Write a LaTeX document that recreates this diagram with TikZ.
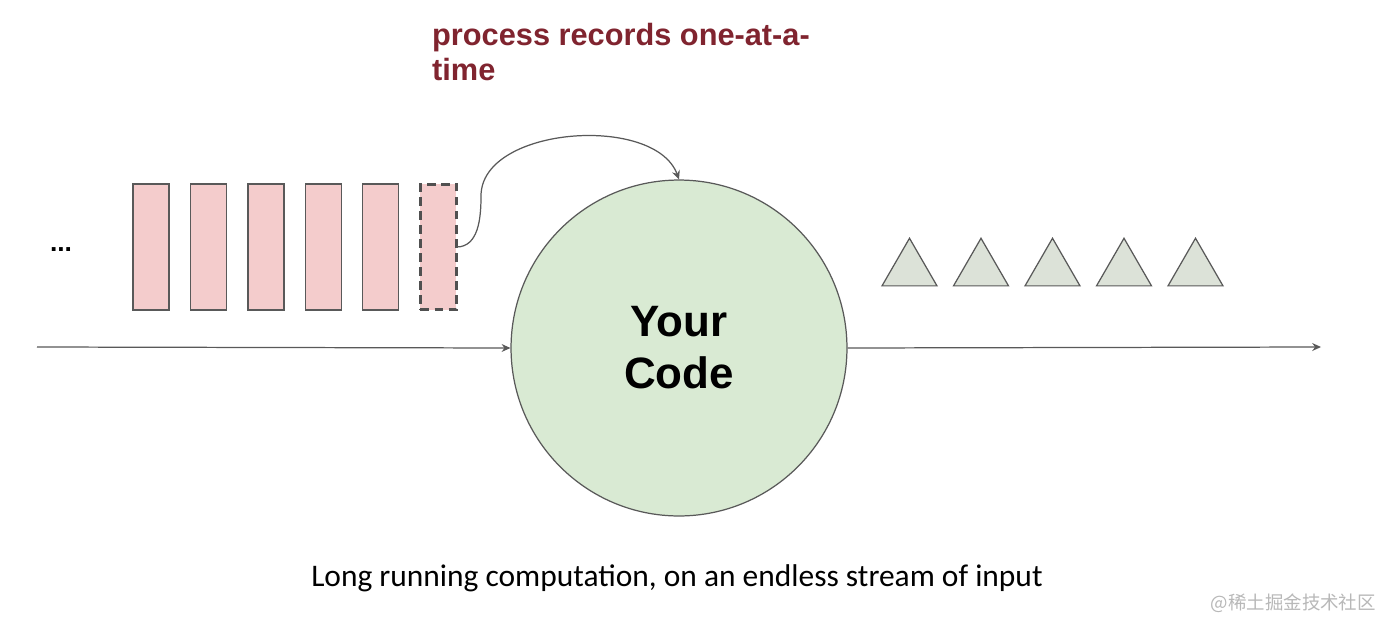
\documentclass[tikz,border=0pt]{standalone}
\usepackage{fontspec}
\setmainfont{Liberation Sans}
\newfontfamily\notefont{Carlito}
\newfontfamily\cjkfont{Noto Sans CJK SC}
\usetikzlibrary{arrows.meta, positioning, shapes.geometric}
\definecolor{recpink}{HTML}{f4cccc}
\definecolor{codegreen}{HTML}{d9ead3}
\definecolor{outgreen}{HTML}{dce2d8}
\definecolor{linegray}{HTML}{595959}
\definecolor{labelred}{HTML}{80242f}

\begin{document}
\begin{tikzpicture}[x=0.02cm, y=-0.02cm,
      record/.style={rectangle, minimum width=0.72cm, minimum height=2.52cm,
                     inner sep=0pt, outer sep=0pt, fill=recpink, draw=linegray,
                     line width=0.6pt},
      current/.style={record, draw=linegray!90!black, line width=1.7pt,
                      dash pattern=on 5pt off 3pt},
      result/.style={regular polygon, regular polygon sides=3, minimum size=1.27cm,
                     inner sep=0pt, fill=outgreen, draw=linegray, line width=0.7pt},
      arr/.style={-{Stealth[length=5pt, width=4.5pt]}, line width=0.7pt, color=linegray},
    ]
      \useasboundingbox[fill=white] (0,0) rectangle (1386,619);

      % input records
      \node[font=\bfseries\fontsize{15pt}{18pt}\selectfont] (dots) at (61,250) {...};
      \node[record] (rec1) at (151,247) {};
      \node[record, right=0.43cm of rec1] (rec2) {};
      \node[record, right=0.43cm of rec2] (rec3) {};
      \node[record, right=0.43cm of rec3] (rec4) {};
      \node[record, right=0.43cm of rec4] (rec5) {};
      \node[current, right=0.43cm of rec5] (rec6) {};

      % the processing step
      \node[circle, minimum size=6.72cm, inner sep=0pt, fill=codegreen,
            draw=linegray, line width=0.7pt, align=center,
            font=\bfseries\fontsize{25pt}{29.5pt}\selectfont] (code) at (679,348)
            {Your\\Code};

      % output results
      \node[result] (out1) at (909.5,270) {};
      \node[result] (out2) at (981,270) {};
      \node[result] (out3) at (1052.5,270) {};
      \node[result] (out4) at (1124,270) {};
      \node[result] (out5) at (1195.5,270) {};

      \coordinate (start) at (37,347);
      \coordinate (finish) at (1321,347);
      \coordinate (lift) at (481,196);

      \draw[arr] (start) -- (code.west);
      \draw[arr] (code.east) -- (finish);
      \draw[arr] (rec6.east) to[out=0, in=-90] (lift)
                 to[out=90, in=110, looseness=0.9] (code.north);

      \node[anchor=north west, align=left, text=labelred,
            font=\bfseries\fontsize{17.5pt}{20pt}\selectfont] (note) at (426,17)
            {process records one-at-a-\\time};
      \node[font=\notefont\fontsize{17.9pt}{21pt}\selectfont] (caption) at (677,578)
            {Long running computation, on an endless stream of input};
      \node[anchor=east, text=black!28, font=\cjkfont\fontsize{10.5pt}{13pt}\selectfont]
            (mark) at (1382,603) {@稀土掘金技术社区};
    \end{tikzpicture}
\end{document}
